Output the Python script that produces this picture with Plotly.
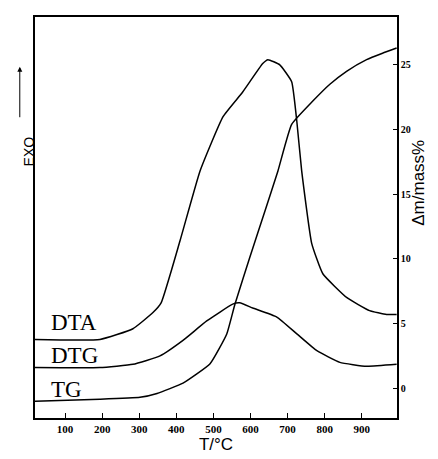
import plotly.graph_objects as go

# values (deg C, right-axis units)
dta_t = [19, 194, 283, 337, 359, 410, 464, 526, 579, 633, 647, 679, 711, 725, 738, 765, 795, 860, 921, 967, 994]
dta_v = [3.77, 3.77, 4.6, 5.85, 6.6, 11.4, 16.8, 21.0, 22.9, 25.1, 25.4, 25.0, 23.7, 20.6, 16.8, 11.2, 8.85, 7.0, 6.0, 5.7, 5.7]

dtg_t = [19, 194, 283, 356, 418, 482, 552, 571, 606, 671, 725, 779, 841, 913, 994]
dtg_v = [1.6, 1.6, 1.85, 2.5, 3.7, 5.2, 6.5, 6.6, 6.2, 5.5, 4.2, 2.9, 2.0, 1.7, 1.85]

tg_t = [19, 194, 302, 348, 418, 491, 536, 558, 598, 639, 674, 711, 768, 814, 859, 913, 956, 994]
tg_v = [-1.0, -0.85, -0.7, -0.4, 0.4, 1.9, 4.2, 6.5, 10.1, 13.7, 16.8, 20.4, 22.2, 23.5, 24.5, 25.4, 25.9, 26.3]

x_ticks = [100, 200, 300, 400, 500, 600, 700, 800, 900]
y_ticks = [0, 5, 10, 15, 20, 25]

curve_labels = [("DTA", 5.1), ("DTG", 2.5), ("TG", -0.1)]

fig = go.Figure()
line = dict(color="black", width=1.5, shape="spline", smoothing=0.4)
fig.add_trace(go.Scatter(x=dta_t, y=dta_v, mode="lines", line=line, name="DTA"))
fig.add_trace(go.Scatter(x=dtg_t, y=dtg_v, mode="lines", line=line, name="DTG"))
fig.add_trace(go.Scatter(x=tg_t, y=tg_v, mode="lines", line=line, name="TG"))

for txt, yv in curve_labels:
    fig.add_annotation(x=56, y=yv, text=txt, showarrow=False, xanchor="left", yanchor="middle",
                       font=dict(family="Liberation Serif", size=23, color="black"))

# EXO marker with arrow on the left
fig.add_annotation(xref="paper", yref="paper", x=-0.044, y=0.665, text="EXO", textangle=-90,
                   showarrow=False, font=dict(family="Liberation Sans", size=14, color="black"))
fig.add_annotation(xref="paper", yref="paper", x=-0.042, y=0.876, ax=0, ay=52, text="",
                   showarrow=True, arrowhead=2, arrowsize=1, arrowwidth=1, arrowcolor="black")
fig.add_annotation(xref="paper", yref="paper", x=1.091, y=0.70, text="\u0394m/mass%", textangle=-90,
                   showarrow=False, font=dict(family="Liberation Sans", size=17, color="black"))

# page body has an 8px margin, so the figure is sized 8px smaller than the window
fig.update_layout(
    width=430, height=451,
    margin=dict(l=27, r=41, t=7, b=41),
    plot_bgcolor="white", paper_bgcolor="white",
    showlegend=False,
    xaxis=dict(range=[19, 995], tickvals=x_ticks, ticks="inside", ticklen=5, tickcolor="black",
               showline=True, mirror=True, linecolor="black", linewidth=1.5, showgrid=False, zeroline=False,
               tickfont=dict(family="Liberation Serif", size=11, color="black", weight="bold"),
               title=dict(text="T/\u00b0C", standoff=4, font=dict(family="Liberation Sans", size=17, color="black"))),
    yaxis=dict(range=[-2.3, 28.7], tickvals=y_ticks, side="right", ticks="inside", ticklen=4, tickcolor="black",
               showline=True, mirror=True, linecolor="black", linewidth=1.5, showgrid=False, zeroline=False,
               tickfont=dict(family="Liberation Serif", size=10, color="black", weight="bold")),
)

fig.write_html("out.html")
